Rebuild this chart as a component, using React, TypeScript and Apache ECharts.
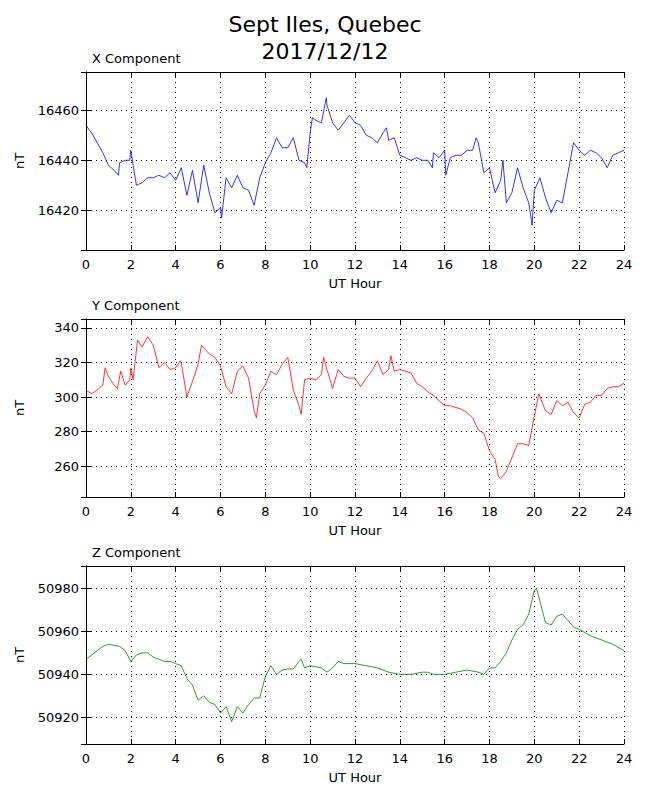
import { useEffect, useRef } from "react";
import * as echarts from "echarts";

const xHours = [0, 0.15, 0.25, 0.5, 0.75, 1, 1.25, 1.45, 1.5, 1.75, 1.95, 2, 2.1, 2.25, 2.5, 2.75, 3, 3.25, 3.5, 3.75, 4, 4.25, 4.5, 4.75, 5, 5.25, 5.5, 5.75, 6, 6.05, 6.25, 6.5, 6.75, 7, 7.25, 7.5, 7.75, 8, 8.25, 8.5, 8.75, 9, 9.25, 9.5, 9.75, 9.85, 10, 10.1, 10.25, 10.5, 10.72, 10.75, 11, 11.25, 11.5, 11.75, 12, 12.25, 12.5, 12.75, 13, 13.25, 13.4, 13.5, 13.75, 14, 14.25, 14.5, 14.75, 15, 15.25, 15.45, 15.5, 15.75, 16, 16.05, 16.25, 16.5, 16.75, 17, 17.25, 17.4, 17.5, 17.75, 18, 18.25, 18.5, 18.6, 18.75, 19, 19.25, 19.5, 19.75, 19.9, 20, 20.25, 20.5, 20.75, 21, 21.25, 21.5, 21.75, 22, 22.25, 22.5, 22.75, 23, 23.25, 23.5, 23.75, 24];
const xValues = [16454, 16452, 16451, 16447, 16443, 16438, 16436, 16434, 16439, 16440, 16440, 16444, 16438, 16430, 16431, 16433, 16433, 16434, 16433, 16435, 16432, 16437, 16426, 16436, 16423, 16438, 16427, 16419, 16421, 16417, 16433, 16429, 16434, 16429, 16428, 16422, 16433, 16439, 16443, 16449, 16445, 16445, 16449, 16440, 16439, 16437, 16451, 16457, 16456, 16455, 16465, 16462, 16455, 16452, 16455, 16458, 16455, 16454, 16450, 16449, 16447, 16451, 16453, 16448, 16449, 16442, 16441, 16440, 16441, 16440, 16440, 16437, 16443, 16441, 16444, 16434, 16441, 16442, 16442, 16444, 16444, 16449, 16447, 16435, 16437, 16427, 16432, 16440, 16423, 16427, 16437, 16429, 16423, 16414, 16428, 16433, 16425, 16419, 16424, 16423, 16435, 16447, 16444, 16442, 16444, 16443, 16441, 16437, 16442, 16443, 16444];

const yHours = [0, 0.25, 0.5, 0.75, 0.85, 1, 1.25, 1.4, 1.55, 1.75, 1.95, 2, 2.1, 2.3, 2.5, 2.75, 3, 3.25, 3.5, 3.75, 4, 4.2, 4.25, 4.5, 4.75, 5, 5.15, 5.5, 5.75, 6, 6.25, 6.5, 6.75, 7, 7.25, 7.5, 7.6, 7.75, 8, 8.25, 8.5, 8.75, 9, 9.25, 9.5, 9.6, 9.75, 10, 10.25, 10.5, 10.6, 10.75, 11, 11.25, 11.5, 11.75, 12, 12.25, 12.5, 12.75, 13, 13.25, 13.5, 13.6, 13.75, 14, 14.25, 14.5, 14.75, 15, 15.25, 15.5, 15.75, 16, 16.25, 16.5, 16.75, 17, 17.25, 17.5, 17.75, 18, 18.25, 18.4, 18.5, 18.75, 19, 19.25, 19.5, 19.75, 20, 20.2, 20.5, 20.75, 21, 21.25, 21.5, 21.75, 22, 22.25, 22.5, 22.75, 23, 23.25, 23.5, 23.75, 24];
const yValues = [304, 302, 304, 307, 317, 312, 307, 305, 315, 307, 310, 317, 310, 333, 329, 335, 330, 317, 320, 316, 317, 321, 320, 300, 309, 319, 330, 325, 323, 318, 306, 302, 315, 318, 311, 292, 288, 302, 307, 315, 313, 319, 323, 304, 295, 290, 310, 311, 310, 313, 323, 316, 305, 316, 312, 311, 311, 306, 311, 315, 321, 313, 316, 324, 315, 316, 315, 314, 308, 306, 303, 301, 298, 295, 295, 294, 293, 291, 288, 281, 279, 269, 264, 254, 253, 257, 265, 273, 273, 272, 289, 302, 292, 290, 298, 295, 297, 291, 288, 296, 297, 301, 301, 305, 306, 306, 308];

const zHours = [0, 0.5, 0.75, 1, 1.5, 1.75, 2, 2.25, 2.5, 2.75, 3, 3.25, 3.5, 3.75, 4, 4.25, 4.5, 4.75, 5, 5.25, 5.5, 5.75, 6, 6.25, 6.5, 6.75, 7, 7.25, 7.5, 7.75, 8, 8.25, 8.5, 8.75, 9, 9.25, 9.5, 9.6, 9.75, 10, 10.5, 10.75, 11, 11.25, 11.5, 12, 12.5, 13, 13.5, 14, 14.5, 15, 15.25, 15.5, 16, 16.5, 17, 17.5, 17.75, 18, 18.25, 18.5, 18.75, 19, 19.25, 19.5, 19.75, 20, 20.1, 20.25, 20.5, 20.75, 21, 21.25, 21.5, 21.75, 22, 22.5, 23, 23.5, 24];
const zValues = [50947, 50951, 50953, 50954, 50953, 50951, 50946, 50949, 50950, 50950, 50948, 50947, 50946, 50946, 50945, 50944, 50938, 50935, 50928, 50930, 50927, 50926, 50922, 50925, 50918, 50925, 50922, 50926, 50929, 50929, 50939, 50944, 50940, 50942, 50942.5, 50942.5, 50946, 50947, 50943, 50944, 50943, 50941, 50943, 50946, 50945, 50945, 50944, 50943, 50941, 50940, 50940, 50941, 50941, 50940, 50940, 50941, 50942, 50941, 50940, 50943, 50943, 50946, 50950, 50956, 50961, 50963, 50968, 50979, 50980, 50974, 50964, 50963, 50967, 50968, 50965, 50962, 50961, 50958, 50956, 50954, 50951];

const panels = [
  { name: "X Component", hours: xHours, values: xValues, color: "#0000ff", min: 16404.1, max: 16475.3, split: 4 },
  { name: "Y Component", hours: yHours, values: yValues, color: "#ff0000", min: 242.2, max: 345.2, split: 5 },
  { name: "Z Component", hours: zHours, values: zValues, color: "#008000", min: 50907.6, max: 50990.4, split: 4 },
];

const FONT = "DejaVu Sans";
const tops = [72, 319, 566];

export default function App() {
  const ref = useRef<HTMLDivElement>(null);

  useEffect(() => {
    if (!ref.current) return;
    const chart = echarts.init(ref.current, null, { renderer: "svg" });
    const line = { lineStyle: { color: "#000", width: 1 } };
    const grids: any[] = [];
    const xAxes: any[] = [];
    const yAxes: any[] = [];
    const series: any[] = [];
    const texts: any[] = [];

    panels.forEach((p, i) => {
      grids.push({ left: 86, width: 538, top: tops[i], height: 178 });
      xAxes.push({
        type: "value", gridIndex: i, min: 0, max: 24, interval: 2,
        name: "UT Hour", nameLocation: "middle", nameGap: 27,
        nameTextStyle: { fontFamily: FONT, fontSize: 13, color: "#000" },
        axisLine: line, axisTick: { inside: true, length: 5, lineStyle: { color: "#000" } },
        axisLabel: { fontFamily: FONT, fontSize: 13, color: "#000", margin: 8 },
        splitLine: { show: true, lineStyle: { color: "#000", type: [1, 4], width: 1 } },
      });
      xAxes.push({
        type: "value", gridIndex: i, min: 0, max: 24, interval: 2, position: "top",
        axisLine: line, axisTick: { inside: true, length: 5, lineStyle: { color: "#000" } },
        axisLabel: { show: false }, splitLine: { show: false },
      });
      const yBase = {
        type: "value", gridIndex: i, min: p.min, max: p.max, splitNumber: p.split,
        axisLine: { show: true, ...line },
        axisTick: { inside: true, length: 5, lineStyle: { color: "#000" } },
      };
      yAxes.push({
        ...yBase,
        name: "nT", nameLocation: "middle", nameGap: 60, nameRotate: 90,
        nameTextStyle: { fontFamily: FONT, fontSize: 13, color: "#000" },
        axisLabel: {
          fontFamily: FONT, fontSize: 13, color: "#000", margin: 7,
          showMinLabel: false, showMaxLabel: false,
          formatter: (v: number) => (Math.abs(v % 20) < 1e-6 ? String(v) : ""),
        },
        splitLine: { show: true, lineStyle: { color: "#000", type: [1, 4], width: 1 } },
      });
      yAxes.push({
        ...yBase, position: "right",
        axisLabel: { show: false }, splitLine: { show: false },
      });
      series.push({
        type: "line", xAxisIndex: i * 2, yAxisIndex: i * 2, showSymbol: false,
        data: p.hours.map((h, k) => [h, p.values[k]]),
        lineStyle: { color: p.color, width: 0.8 },
      });
      texts.push({
        type: "text", left: 92, top: tops[i] - 20,
        style: { text: p.name, font: `13px "${FONT}"`, fill: "#000" },
      });
    });

    chart.setOption({
      animation: false,
      backgroundColor: "#fff",
      grid: grids,
      xAxis: xAxes,
      yAxis: yAxes,
      series,
      graphic: [
        { type: "text", left: "center", top: 13, style: { text: "Sept Iles, Quebec", font: `22px "${FONT}"`, fill: "#000" } },
        { type: "text", left: "center", top: 40, style: { text: "2017/12/12", font: `22px "${FONT}"`, fill: "#000" } },
        ...texts,
      ],
    });
    return () => chart.dispose();
  }, []);

  return <div ref={ref} style={{ position: "fixed", left: 0, top: 0, width: 650, height: 800 }} />;
}
